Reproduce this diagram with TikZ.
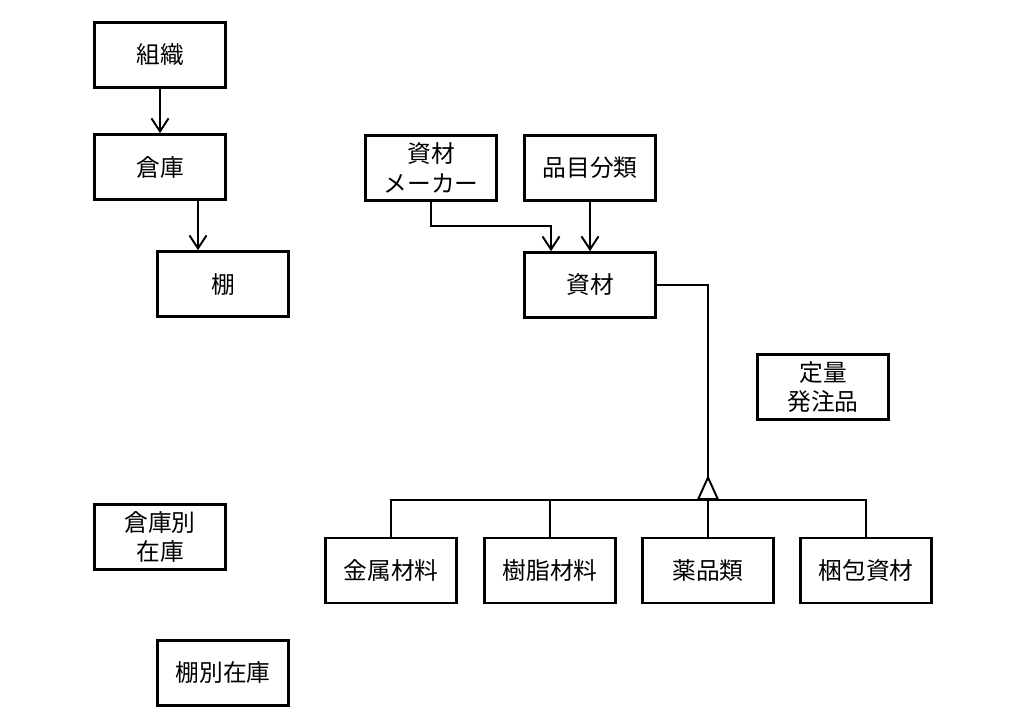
\documentclass[tikz,border=0pt]{standalone}
\usepackage{fontspec}
\setmainfont{Noto Sans CJK JP}
\usetikzlibrary{arrows.meta}

\tikzset{
	ent/.style={draw, line width=1.5pt, minimum width=2.62cm, minimum height=1.3cm, align=center, inner sep=1pt, font=\fontsize{13.5}{17}\selectfont},
	arr/.style={line width=1.1pt, -{Straight Barb[length=2.6mm,width=3.4mm,line width=1.1pt]}},
	con/.style={line width=1.1pt}
}

\begin{document}
\begin{tikzpicture}
				\useasboundingbox (0,0) rectangle (20.24,-14.56);
				% left side
				\node[ent] (soshiki) at (3.2,-1.1) {組織};
				\node[ent] (souko) at (3.2,-3.34) {倉庫};
				\node[ent] (tana) at (4.46,-5.68) {棚};
				\node[ent] (soukobetsu) at (3.2,-10.74) {倉庫別\\在庫};
				\node[ent] (tanabetsu) at (4.46,-13.46) {棚別在庫};
				\draw[arr] (soshiki.south) -- (souko.north);
				\draw[arr] ([xshift=0.76cm]souko.south) -- ([xshift=0.76cm]souko.south |- tana.north);
				% materials
				\node[ent] (maker) at (8.62,-3.36) {資材\\メーカー};
				\node[ent] (hinmoku) at (11.8,-3.36) {品目分類};
				\node[ent] (shizai) at (11.8,-5.7) {資材};
				\node[ent] (teiryo) at (16.46,-7.74) {定量\\発注品};
				\coordinate (mk) at (11.02,-4.52);
				\draw[arr] (maker.south) |- (mk) -- (mk |- shizai.north);
				\draw[arr] (hinmoku.south) -- (shizai.north);
				% subtypes
				\node[ent] (kinzoku) at (7.82,-11.41) {金属材料};
				\node[ent] (jushi) at (11.0,-11.41) {樹脂材料};
				\node[ent] (yakuhin) at (14.16,-11.41) {薬品類};
				\node[ent] (konpo) at (17.32,-11.41) {梱包資材};
				\coordinate (bus) at (14.16,-10.0);
				\draw[con, -{Triangle[open,reversed,length=0.5cm,width=0.44cm,line width=1.1pt]}] (shizai.east) -| (bus);
				\draw[con] (kinzoku.north) |- (bus) -| (konpo.north);
				\draw[con] (jushi.north) -- (jushi.north |- bus);
				\draw[con] (yakuhin.north) -- (bus);
			\end{tikzpicture}
\end{document}
